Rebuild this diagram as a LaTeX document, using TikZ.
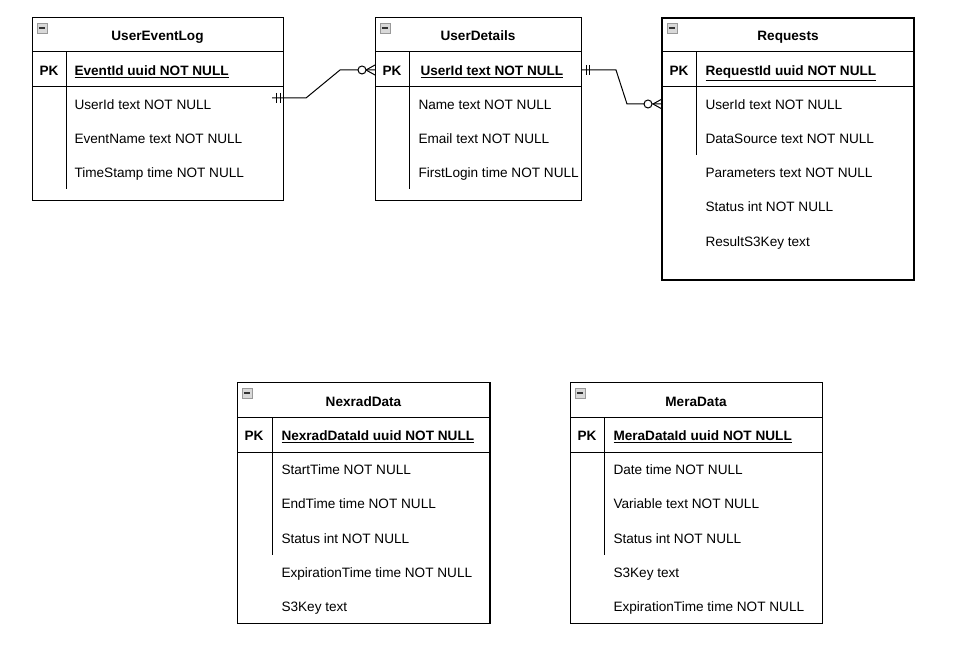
\documentclass[tikz,border=0pt]{standalone}
\usepackage{fontspec}
\setmainfont{Liberation Sans}
\usetikzlibrary{calc}
\begin{document}
\begin{tikzpicture}[x=0.75pt, y=-0.75pt, line width=0.75pt,
  field/.style={anchor=base west, inner sep=0pt, yshift=-4.2pt, font=\fontsize{10.2}{12}\selectfont},
  key/.style={anchor=base west, inner sep=0pt, yshift=-4.2pt, font=\fontsize{10.2}{12}\selectfont\bfseries},
  title/.style={anchor=base, inner sep=0pt, yshift=-4.2pt, font=\fontsize{10.2}{12}\selectfont\bfseries},
  icon/.style={draw=gray!80, fill=gray!30, line width=0.5pt, minimum size=7.4pt, inner sep=0pt,
    path picture={\draw[black!80, line width=1pt] ([xshift=1.4pt]path picture bounding box.west) -- ([xshift=-1.4pt]path picture bounding box.east);}}]
  \useasboundingbox (0,0) rectangle (958,645);

  % UserEventLog
  \draw (32,18) rectangle (283,201);
  \draw (32,52) -- (283,52) (32,87) -- (283,87);
  \draw (66,52) -- (66,189);
  \node[icon] (uel-icon) at (42,28) {};
  \node[title] (uel-title) at (157.5,35) {UserEventLog};
  \node[title] (uel-pk) at (49,70) {PK};
  \node[key] (uel-id) at (74,70) {\underline{EventId uuid NOT NULL}};
  \node[field] (uel-user) at (74,104) {UserId text NOT NULL};
  \node[field] (uel-name) at (74,138) {EventName text NOT NULL};
  \node[field] (uel-time) at (74,172) {TimeStamp time NOT NULL};

  % UserDetails
  \draw (375,18) rectangle (581,201);
  \draw (375,52) -- (581,52) (375,87) -- (581,87);
  \draw (409,52) -- (409,189);
  \node[icon] (ud-icon) at (385,28) {};
  \node[title] (ud-title) at (478,35) {UserDetails};
  \node[title] (ud-pk) at (392,70) {PK};
  \node[key] (ud-id) at (420,70) {\underline{UserId text NOT NULL}};
  \node[field] (ud-name) at (418,104) {Name text NOT NULL};
  \node[field] (ud-email) at (418,138) {Email text NOT NULL};
  \node[field] (ud-login) at (418,172) {FirstLogin time NOT NULL};

  % Requests
  \draw[line width=1.3pt] (662,18) rectangle (914,280);
  \draw (662,52) -- (914,52) (662,87) -- (914,87);
  \draw (696,52) -- (696,155);
  \node[icon] (rq-icon) at (672,28) {};
  \node[title] (rq-title) at (788,35) {Requests};
  \node[title] (rq-pk) at (679,70) {PK};
  \node[key] (rq-id) at (705,70) {\underline{RequestId uuid NOT NULL}};
  \node[field] (rq-user) at (705,104) {UserId text NOT NULL};
  \node[field] (rq-source) at (705,138) {DataSource text NOT NULL};
  \node[field] (rq-param) at (705,172) {Parameters text NOT NULL};
  \node[field] (rq-status) at (705,206) {Status int NOT NULL};
  \node[field] (rq-key) at (705,241) {ResultS3Key text};

  % NexradData
  \draw (237,383) rectangle (490,623);
  \draw[line width=1.3pt] (490,383) -- (490,623);
  \draw (237,418) -- (490,418) (237,453) -- (490,453);
  \draw (272,418) -- (272,555);
  \node[icon] (nx-icon) at (247,393) {};
  \node[title] (nx-title) at (363.5,401) {NexradData};
  \node[title] (nx-pk) at (254,435) {PK};
  \node[key] (nx-id) at (281,435) {\underline{NexradDataId uuid NOT NULL}};
  \node[field] (nx-start) at (281,469) {StartTime NOT NULL};
  \node[field] (nx-end) at (281,503) {EndTime time NOT NULL};
  \node[field] (nx-status) at (281,538) {Status int NOT NULL};
  \node[field] (nx-exp) at (281,572) {ExpirationTime time NOT NULL};
  \node[field] (nx-key) at (281,606) {S3Key text};

  % MeraData
  \draw (570,383) rectangle (822,623);
  \draw (570,418) -- (822,418) (570,453) -- (822,453);
  \draw (604,418) -- (604,555);
  \node[icon] (me-icon) at (580,393) {};
  \node[title] (me-title) at (696,401) {MeraData};
  \node[title] (me-pk) at (587,435) {PK};
  \node[key] (me-id) at (613,435) {\underline{MeraDataId uuid NOT NULL}};
  \node[field] (me-date) at (613,469) {Date time NOT NULL};
  \node[field] (me-var) at (613,503) {Variable text NOT NULL};
  \node[field] (me-status) at (613,538) {Status int NOT NULL};
  \node[field] (me-key) at (613,572) {S3Key text};
  \node[field] (me-exp) at (613,606) {ExpirationTime time NOT NULL};

  % relations
  \coordinate (uel-fk) at (272,98);
  \coordinate (ud-in) at (375,70);
  \coordinate (ud-out) at (581,70);
  \coordinate (rq-in) at (662,104);

  \draw (uel-fk) -- ++(34,0) -- ++(34,-28) -- (ud-in);
  \draw ($(uel-fk)+(4,-5)$) -- ++(0,10) ($(uel-fk)+(8,-5)$) -- ++(0,10);
  \draw ($(ud-in)+(-9,0)$) -- ($(ud-in)+(0,-5)$) ($(ud-in)+(-9,0)$) -- ($(ud-in)+(0,5)$);
  \draw[fill=white] ($(ud-in)+(-13,0)$) circle (4);

  \draw (ud-out) -- ++(35,0) -- ++(11,34) -- (rq-in);
  \draw ($(ud-out)+(5,-5)$) -- ++(0,10) ($(ud-out)+(8,-5)$) -- ++(0,10);
  \draw ($(rq-in)+(-9,0)$) -- ($(rq-in)+(0,-5)$) ($(rq-in)+(-9,0)$) -- ($(rq-in)+(0,5)$);
  \draw[fill=white] ($(rq-in)+(-14,0)$) circle (4);
\end{tikzpicture}
\end{document}
